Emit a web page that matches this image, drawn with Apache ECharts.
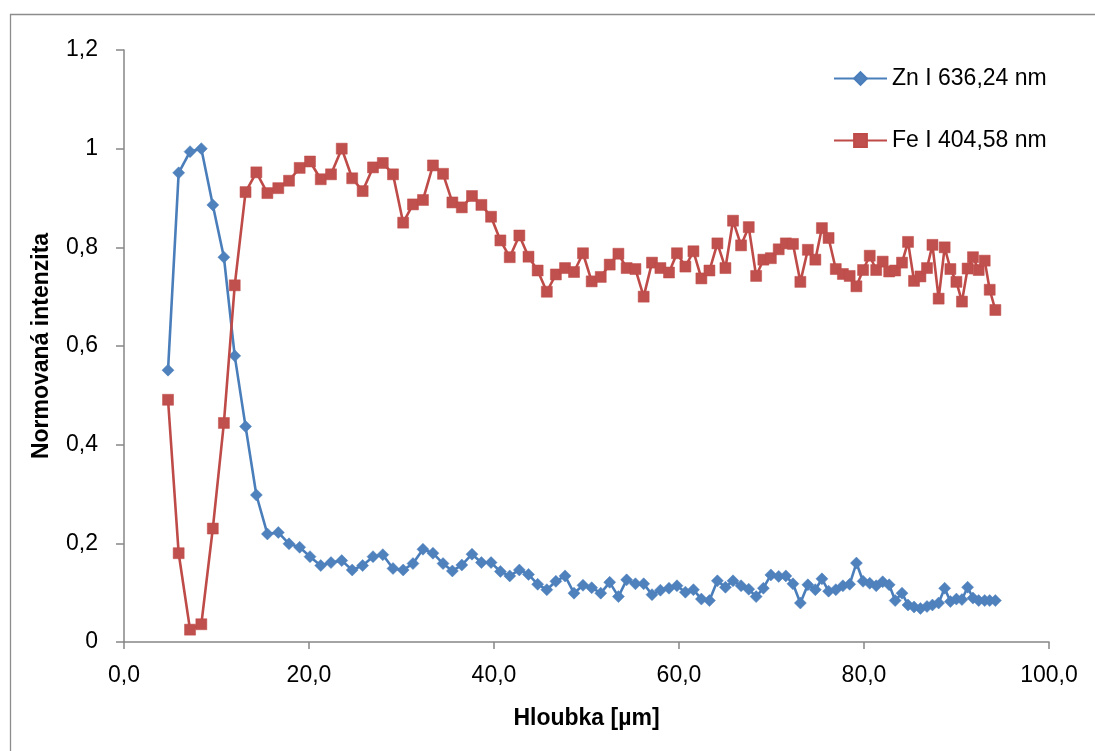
<!DOCTYPE html>
<html>
<head>
<meta charset="utf-8">
<script src="https://cdn.jsdelivr.net/npm/echarts@6/dist/echarts.min.js"></script>
<style>
html,body{margin:0;padding:0;background:#fff;}
#chart{width:1095px;height:751px;}
</style>
</head>
<body>
<div id="chart"></div>
<script>
// Depth [µm] (shared by both series)
const depth = [
  4.76, 5.91, 7.14, 8.36, 9.6, 10.8, 11.97, 13.14, 14.31, 15.5,
  16.68, 17.84, 18.99, 20.11, 21.27, 22.38, 23.54, 24.67, 25.8, 26.92,
  27.98, 29.08, 30.18, 31.24, 32.32, 33.4, 34.49, 35.5, 36.52, 37.62,
  38.64, 39.68, 40.69, 41.7, 42.74, 43.73, 44.72, 45.71, 46.69, 47.68,
  48.65, 49.62, 50.56, 51.54, 52.51, 53.45, 54.34, 55.29, 56.18, 57.08,
  57.99, 58.92, 59.78, 60.69, 61.56, 62.42, 63.29, 64.15, 65.02, 65.84,
  66.71, 67.54, 68.34, 69.12, 69.93, 70.78, 71.55, 72.32, 73.12, 73.93,
  74.74, 75.45, 76.17, 76.95, 77.72, 78.45, 79.18, 79.9, 80.62, 81.32,
  82.02, 82.72, 83.37, 84.11, 84.76, 85.41, 86.1, 86.81, 87.4, 88.07,
  88.72, 89.34, 89.99, 90.59, 91.2, 91.78, 92.4, 93.05, 93.59, 94.2
];

// Zn I 636,24 nm – normalized intensity
const zn = [
  0.551, 0.951, 0.994, 1.000, 0.886, 0.780, 0.580, 0.437, 0.298, 0.219,
  0.222, 0.199, 0.192, 0.173, 0.155, 0.161, 0.165, 0.146, 0.155, 0.173,
  0.177, 0.149, 0.146, 0.159, 0.188, 0.180, 0.159, 0.144, 0.156, 0.178,
  0.161, 0.161, 0.143, 0.134, 0.146, 0.137, 0.117, 0.106, 0.123, 0.134,
  0.099, 0.115, 0.110, 0.099, 0.121, 0.092, 0.126, 0.118, 0.118, 0.096,
  0.105, 0.109, 0.114, 0.101, 0.106, 0.087, 0.084, 0.124, 0.111, 0.124,
  0.114, 0.107, 0.092, 0.109, 0.136, 0.133, 0.134, 0.118, 0.079, 0.116,
  0.106, 0.128, 0.103, 0.106, 0.114, 0.117, 0.160, 0.123, 0.119, 0.114,
  0.122, 0.116, 0.084, 0.099, 0.075, 0.071, 0.068, 0.072, 0.075, 0.079,
  0.109, 0.082, 0.087, 0.086, 0.111, 0.089, 0.084, 0.084, 0.084, 0.084
];

// Fe I 404,58 nm – normalized intensity
const fe = [
  0.491, 0.180, 0.025, 0.036, 0.230, 0.444, 0.723, 0.912, 0.952, 0.910,
  0.920, 0.935, 0.961, 0.974, 0.938, 0.948, 1.000, 0.940, 0.914, 0.962,
  0.971, 0.948, 0.850, 0.887, 0.896, 0.966, 0.949, 0.891, 0.881, 0.904,
  0.886, 0.862, 0.814, 0.780, 0.824, 0.781, 0.753, 0.710, 0.745, 0.758,
  0.750, 0.788, 0.731, 0.740, 0.765, 0.787, 0.758, 0.756, 0.700, 0.769,
  0.758, 0.749, 0.788, 0.761, 0.792, 0.737, 0.753, 0.808, 0.758, 0.854,
  0.804, 0.841, 0.742, 0.775, 0.778, 0.796, 0.808, 0.807, 0.730, 0.795,
  0.775, 0.839, 0.819, 0.756, 0.746, 0.742, 0.721, 0.754, 0.783, 0.754,
  0.771, 0.751, 0.753, 0.769, 0.811, 0.732, 0.741, 0.758, 0.805, 0.696,
  0.800, 0.756, 0.730, 0.690, 0.757, 0.780, 0.754, 0.773, 0.714, 0.673
];

const seriesNames = ['Zn I 636,24 nm', 'Fe I 404,58 nm'];
const xTitle = 'Hloubka [µm]';
const yTitle = 'Normovaná intenzita';

const FONT = 'Liberation Sans, Arial, sans-serif';
const axisGray = '#868686';

const chart = echarts.init(document.getElementById('chart'), null, {renderer: 'canvas'});

function pairs(ys) { return depth.map((d, i) => [d, ys[i]]); }

chart.setOption({
  animation: false,
  backgroundColor: '#ffffff',
  graphic: [{
    type: 'rect',
    left: 8, top: 12,
    shape: {width: 1200, height: 900},
    style: {fill: 'none', stroke: '#8c8c8c', lineWidth: 1.3},
    silent: true, z: -1
  }],
  grid: {left: 124, top: 50, right: 46, bottom: 109, containLabel: false},
  legend: {
    orient: 'vertical',
    left: 828, top: 62,
    padding: 5,
    itemWidth: 53, itemHeight: 16,
    itemGap: 39,
    textStyle: {fontFamily: FONT, fontSize: 23, lineHeight: 23, color: '#000'},
    data: seriesNames
  },
  xAxis: {
    type: 'value',
    min: 0, max: 100, interval: 20,
    name: xTitle,
    nameLocation: 'middle',
    nameGap: 65,
    nameTextStyle: {fontFamily: FONT, fontSize: 23, fontWeight: 'bold', color: '#000'},
    axisLine: {show: true, onZero: false, lineStyle: {color: axisGray, width: 1.5}},
    axisTick: {show: true, inside: false, length: 7, lineStyle: {color: axisGray, width: 1.5}},
    axisLabel: {
      margin: 22, fontFamily: FONT, fontSize: 23, color: '#000',
      formatter: v => v.toFixed(1).replace('.', ',')
    },
    splitLine: {show: false}
  },
  yAxis: {
    type: 'value',
    min: 0, max: 1.2, interval: 0.2,
    name: yTitle,
    nameLocation: 'middle',
    nameGap: 71,
    nameRotate: 90,
    nameTextStyle: {fontFamily: FONT, fontSize: 23, fontWeight: 'bold', color: '#000'},
    axisLine: {show: true, lineStyle: {color: axisGray, width: 1.5}},
    axisTick: {show: true, inside: false, length: 8, lineStyle: {color: axisGray, width: 1.5}},
    axisLabel: {
      margin: 26, fontFamily: FONT, fontSize: 23, color: '#000',
      formatter: v => String(Math.round(v * 10) / 10).replace('.', ',')
    },
    splitLine: {show: false}
  },
  series: [
    {
      name: seriesNames[0],
      type: 'line',
      data: pairs(zn),
      symbol: 'diamond',
      symbolSize: 12,
      showAllSymbol: true,
      itemStyle: {color: '#4F81BD', borderColor: '#4A7EBB', borderWidth: 0.5},
      lineStyle: {color: '#4A7EBB', width: 2.6},
      z: 2
    },
    {
      name: seriesNames[1],
      type: 'line',
      data: pairs(fe),
      symbol: 'rect',
      symbolSize: 11,
      showAllSymbol: true,
      itemStyle: {color: '#C0504D', borderColor: '#BE4B48', borderWidth: 0.5},
      lineStyle: {color: '#BE4B48', width: 2.6},
      z: 3
    }
  ]
});
</script>
</body>
</html>
